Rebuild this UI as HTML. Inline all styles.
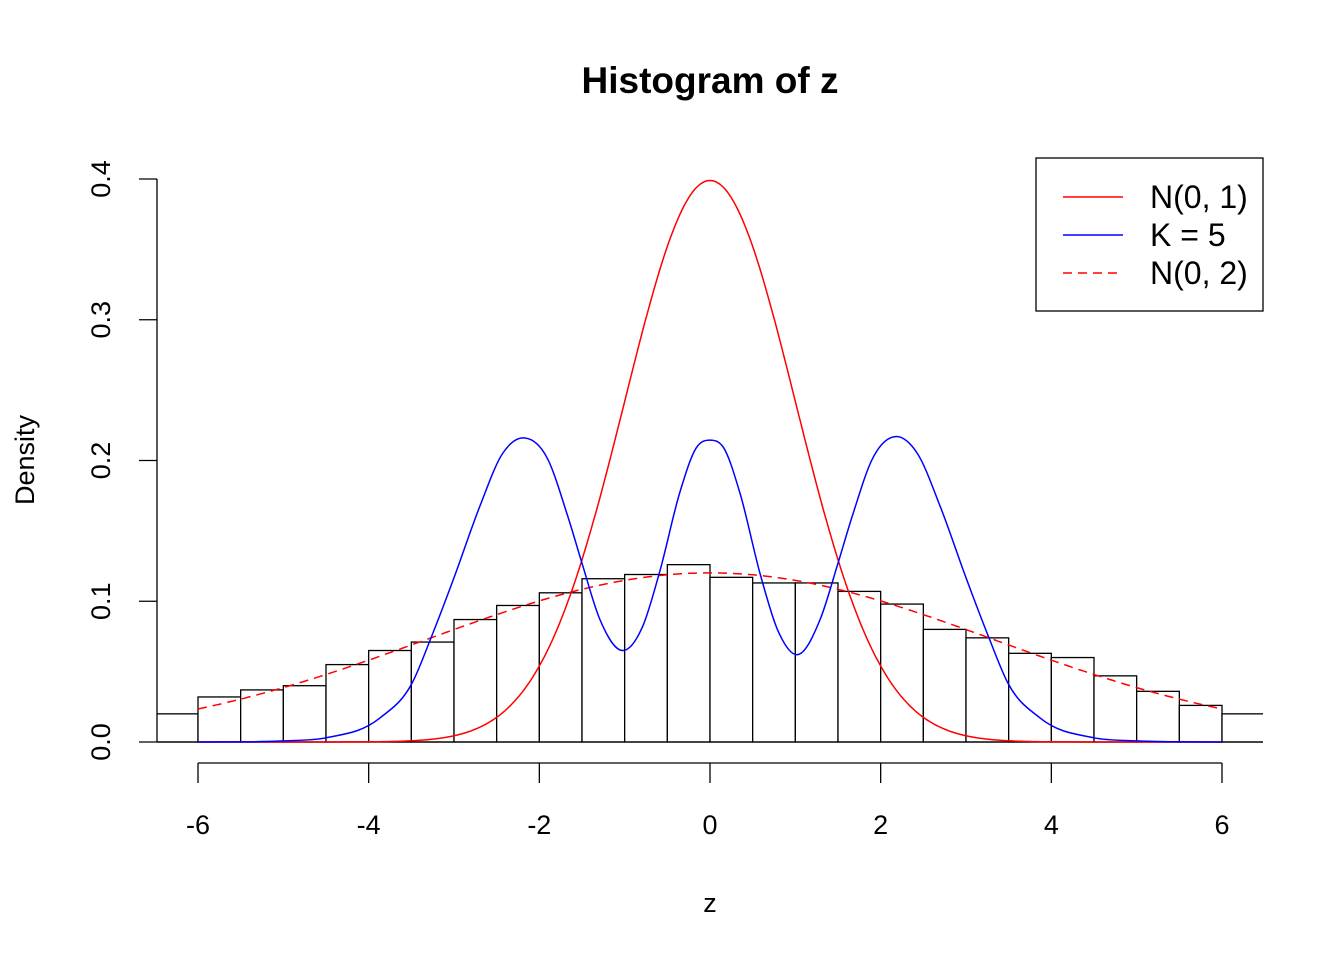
<!DOCTYPE html>
<html><head><meta charset="utf-8"><style>
html,body{margin:0;padding:0;background:#fff}
svg{display:block;font-family:"Liberation Sans",Arial,sans-serif}
</style></head><body>
<svg id="chart" width="1344" height="960" viewBox="0 0 1344 960">
<defs><clipPath id="plotclip"><rect x="157" y="100" width="1106" height="700"/></clipPath></defs>
<text x="710" y="93" text-anchor="middle" font-size="37" font-weight="bold">Histogram of z</text>
<text x="710" y="912" text-anchor="middle" font-size="27">z</text>
<text transform="translate(34,460) rotate(-90)" text-anchor="middle" font-size="27">Density</text>
<g id="bars" clip-path="url(#plotclip)"></g>
<g id="axes"></g>
<g id="curves"></g>
<g>
<rect x="1036" y="158" width="227" height="153" fill="#fff" stroke="#000" stroke-width="1.3"/>
<g><line x1="1063" y1="197" x2="1123" y2="197" stroke="#f00" stroke-width="1.5"/><text x="1150" y="208" font-size="32">N(0, 1)</text></g>
<g><line x1="1063" y1="235" x2="1123" y2="235" stroke="#00f" stroke-width="1.5"/><text x="1150" y="246" font-size="32">K = 5</text></g>
<g><line x1="1063" y1="273" x2="1123" y2="273" stroke="#f00" stroke-width="1.5" stroke-dasharray="9,6"/><text x="1150" y="284" font-size="32">N(0, 2)</text></g>
</g>
</svg>
<script>
const binStarts = [-6.5,-6,-5.5,-5,-4.5,-4,-3.5,-3,-2.5,-2,-1.5,-1,-0.5,0,0.5,1,1.5,2,2.5,3,3.5,4,4.5,5,5.5,6];
const binDensity = [0.020,0.032,0.037,0.040,0.055,0.065,0.071,0.087,0.097,0.106,0.116,0.119,0.126,0.117,0.113,0.113,0.107,0.098,0.080,0.074,0.063,0.060,0.047,0.036,0.026,0.020];
const binWidth = 0.5;
const xTicks = [-6,-4,-2,0,2,4,6];
const yTicks = [0,0.1,0.2,0.3,0.4];
const yTickLabels = ["0.0","0.1","0.2","0.3","0.4"];
const normMeans = [0, 0];
const normSds = [1, 3.32];
const kX = [-6,-5,-4.5,-3.87,-3.49,-3.25,-3.01,-2.70,-2.43,-2.17,-1.91,-1.68,-1.50,-1.29,-1.02,-0.79,-0.59,-0.35,-0.16,0,0.16,0.35,0.59,0.79,1.02,1.29,1.50,1.68,1.91,2.17,2.43,2.70,3.01,3.25,3.49,3.87,4.5,5,6];
const kY = [0,0.0008,0.003,0.017,0.042,0.077,0.115,0.167,0.205,0.216,0.202,0.163,0.127,0.087,0.065,0.082,0.121,0.178,0.209,0.2145,0.209,0.177,0.119,0.080,0.062,0.087,0.127,0.163,0.202,0.217,0.205,0.167,0.115,0.077,0.042,0.017,0.003,0.0008,0];

const NS="http://www.w3.org/2000/svg";
const X = v => 710 + v*85.333;
const Y = v => 742 - v*1407.5;
function mk(tag, attrs, parent){const e=document.createElementNS(NS,tag);for(const k in attrs)e.setAttribute(k,attrs[k]);parent.appendChild(e);return e;}

const bars=document.getElementById('bars');
binStarts.forEach((b,i)=>{
  const r=mk('rect',{x:X(b),y:Y(binDensity[i]),width:X(b+binWidth)-X(b),height:Y(0)-Y(binDensity[i]),fill:'#fff',stroke:'#000','stroke-width':1.3},bars);
  
  
});

const axes=document.getElementById('axes');
const base=mk('line',{x1:157,y1:742,x2:1263,y2:742,stroke:'#000','stroke-width':1.3},axes);


const xa=mk('line',{x1:X(xTicks[0]),y1:763,x2:X(xTicks[xTicks.length-1]),y2:763,stroke:'#000','stroke-width':1.3},axes);


xTicks.forEach(t=>{
  mk('line',{x1:X(t),y1:763,x2:X(t),y2:783,stroke:'#000','stroke-width':1.3},axes);
  const tx=mk('text',{x:X(t),y:834,'text-anchor':'middle','font-size':27},axes);
  tx.textContent=String(t);
  
  
});
const ya=mk('line',{x1:157,y1:Y(yTicks[0]),x2:157,y2:Y(yTicks[yTicks.length-1]),stroke:'#000','stroke-width':1.3},axes);


yTicks.forEach((t,i)=>{
  mk('line',{x1:139,y1:Y(t),x2:157,y2:Y(t),stroke:'#000','stroke-width':1.3},axes);
  const tx=mk('text',{transform:`translate(110,${Y(t)}) rotate(-90)`,'text-anchor':'middle','font-size':27},axes);
  tx.textContent=yTickLabels[i];
  
  
});

const curves=document.getElementById('curves');
function dnorm(x,m,s){return Math.exp(-0.5*((x-m)/s)**2)/(s*Math.sqrt(2*Math.PI));}
function normPath(m,s){let d='';for(let i=0;i<=600;i++){const x=-6+12*i/600;d+=(i?'L':'M')+X(x).toFixed(1)+','+Y(dnorm(x,m,s)).toFixed(1);}return d;}
const p1=mk('path',{d:normPath(normMeans[0],normSds[0]),fill:'none',stroke:'#f00','stroke-width':1.5},curves);


const p2=mk('path',{d:normPath(normMeans[1],normSds[1]),fill:'none',stroke:'#f00','stroke-width':1.5,'stroke-dasharray':'9,6'},curves);


// cubic Hermite spline with non-uniform finite-difference slopes
const n=kX.length;
const slope=kX.map((x,i)=>{
  if(i===0) return (kY[1]-kY[0])/(kX[1]-kX[0]);
  if(i===n-1) return (kY[n-1]-kY[n-2])/(kX[n-1]-kX[n-2]);
  const h0=kX[i]-kX[i-1],h1=kX[i+1]-kX[i];
  const d0=(kY[i]-kY[i-1])/h0,d1=(kY[i+1]-kY[i])/h1;
  return (d0*h1+d1*h0)/(h0+h1);
});
let d='M'+X(kX[0]).toFixed(1)+','+Y(kY[0]).toFixed(1);
for(let i=0;i<n-1;i++){
  const h=kX[i+1]-kX[i];
  const c1x=kX[i]+h/3,c1y=kY[i]+slope[i]*h/3;
  const c2x=kX[i+1]-h/3,c2y=kY[i+1]-slope[i+1]*h/3;
  d+=`C${X(c1x).toFixed(1)},${Y(c1y).toFixed(1)} ${X(c2x).toFixed(1)},${Y(c2y).toFixed(1)} ${X(kX[i+1]).toFixed(1)},${Y(kY[i+1]).toFixed(1)}`;
}
const p3=mk('path',{d:d,fill:'none',stroke:'#00f','stroke-width':1.5},curves);


</script>
</body></html>
